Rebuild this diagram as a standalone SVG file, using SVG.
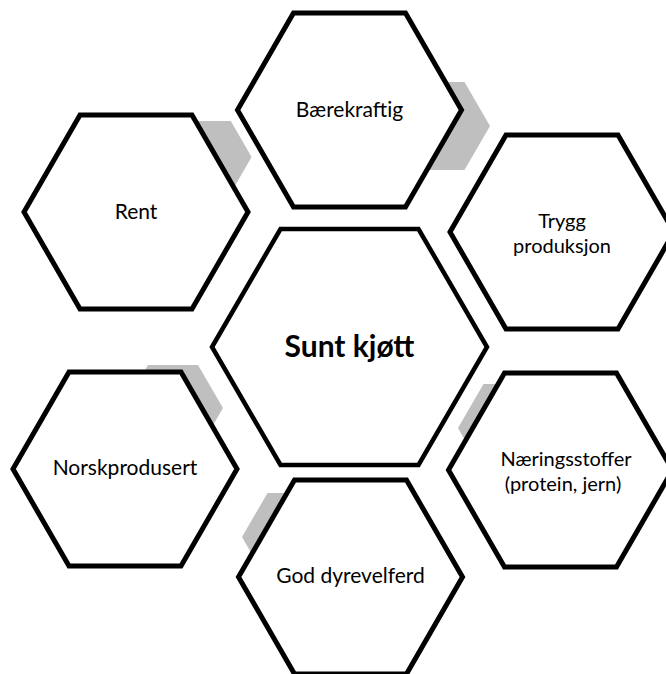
<svg xmlns="http://www.w3.org/2000/svg" xmlns:xlink="http://www.w3.org/1999/xlink" width="666" height="674" viewBox="0 0 666 674">
  <style>
    .hex { fill: #ffffff; stroke: #000000; stroke-width: 5; stroke-linejoin: miter; }
    .hexc { fill: #ffffff; stroke: #000000; stroke-width: 4.5; stroke-linejoin: miter; }
    .gray { fill: #bfbfbf; stroke: none; }
    .lbl { font-family: Lato, "Open Sans", sans-serif; font-size: 21px; fill: #000000; text-anchor: middle; }
    .lbl2 { font-family: Lato, "Open Sans", sans-serif; font-size: 20px; fill: #000000; text-anchor: middle; }
    .lblc { font-family: Lato, "Open Sans", sans-serif; font-size: 30px; font-weight: bold; fill: #000000; text-anchor: middle; }
  </style>
  <defs>
    <polygon id="hx" points="-112,0 -56,-97 56,-97 112,0 56,97 -56,97"/>
  </defs>
  <rect width="666" height="674" fill="#ffffff"/>
  <g id="connectors">
    <polygon class="gray" points="388,126 413.5,82 464.5,82 490,126 464.5,170 413.5,170"/>
    <polygon class="gray" points="168.4,157 189.2,121 230.8,121 251.6,157 230.8,193 189.2,193"/>
    <polygon class="gray" points="123,408 148,365 198,365 223,408 198,451 148,451"/>
    <polygon class="gray" points="458,428 483.5,384 534.5,384 560,428 534.5,472 483.5,472"/>
    <polygon class="gray" points="242,537 267.5,493 318.5,493 344,537 318.5,581 267.5,581"/>
  </g>
  <g id="node-baerekraftig">
    <use href="#hx" class="hex" x="349.5" y="110"/>
    <text class="lbl" x="349.5" y="117">Bærekraftig</text>
  </g>
  <g id="node-rent">
    <use href="#hx" class="hex" x="136" y="212"/>
    <text class="lbl" x="136" y="219">Rent</text>
  </g>
  <g id="node-trygg">
    <use href="#hx" class="hex" x="562" y="232"/>
    <text class="lbl2" x="562" y="228">Trygg</text>
    <text class="lbl2" x="562" y="253">produksjon</text>
  </g>
  <g id="node-norsk">
    <use href="#hx" class="hex" x="125" y="469"/>
    <text class="lbl" x="125" y="475">Norskprodusert</text>
  </g>
  <g id="node-naering">
    <use href="#hx" class="hex" x="560.5" y="470"/>
    <text class="lbl2" x="566" y="466">Næringsstoffer</text>
    <text class="lbl2" x="563" y="491">(protein, jern)</text>
  </g>
  <g id="node-dyrevelferd">
    <use href="#hx" class="hex" x="350.5" y="577"/>
    <text class="lbl" x="350.5" y="583">God dyrevelferd</text>
  </g>
  <g id="node-center">
    <polygon class="hexc" points="212,347 280.5,229 418.5,229 487,347 418.5,465 280.5,465"/>
    <text class="lblc" x="349.5" y="357">Sunt kjøtt</text>
  </g>
</svg>
